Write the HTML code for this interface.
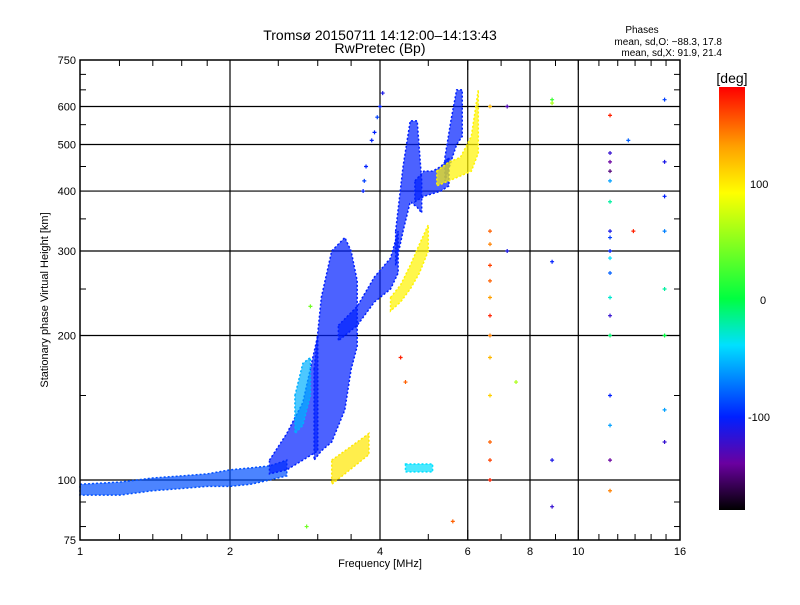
<!DOCTYPE html>
<html><head><meta charset="utf-8"><style>
body{margin:0;background:#fff;}
svg text{font-family:"Liberation Sans",sans-serif;fill:#000;}
</style></head><body>
<svg id="chart" width="800" height="600" xmlns="http://www.w3.org/2000/svg">
<rect width="800" height="600" fill="#fff"/>
<defs>
<linearGradient id="cbar" x1="0" y1="1" x2="0" y2="0">
<stop offset="0" stop-color="#000"/><stop offset="0.11" stop-color="#6a00a0"/><stop offset="0.22" stop-color="#0020ff"/><stop offset="0.39" stop-color="#00e0ff"/><stop offset="0.5" stop-color="#00ff40"/><stop offset="0.75" stop-color="#ffff00"/><stop offset="0.86" stop-color="#ffa000"/><stop offset="1" stop-color="#ff0000"/>
</linearGradient>
</defs>
<g id="grid"></g>
<g id="marks"></g>
<g id="axes"></g>
<text x="380" y="40" font-size="14" text-anchor="middle">Tromsø 20150711 14:12:00–14:13:43</text>
<text x="380" y="53" font-size="14" text-anchor="middle">RwPretec (Bp)</text>
<text x="642" y="33" font-size="10" text-anchor="middle">Phases</text>
<text x="722" y="45" font-size="10" text-anchor="end">mean, sd,O: −88.3, 17.8</text>
<text x="722" y="56" font-size="10" text-anchor="end">mean, sd,X:  91.9, 21.4</text>
<text x="380" y="567" font-size="11" text-anchor="middle">Frequency [MHz]</text>
<text x="48" y="300" font-size="11" text-anchor="middle" transform="rotate(-90 48 300)">Stationary phase Virtual Height [km]</text>
<rect x="719" y="87" width="26" height="423" fill="url(#cbar)"/>
<text x="732" y="83" font-size="14" text-anchor="middle">[deg]</text>
<text x="750" y="188" font-size="11">100</text>
<text x="760" y="304" font-size="11">0</text>
<text x="748" y="421" font-size="11">-100</text>
</svg>
<script>
const xTicks=[1,2,4,6,8,10,16];
const yTicks=[75,100,200,300,400,500,600,750];
const xGrid=[2,4,6,8,10];
const yGrid=[100,200,300,400,500,600];
const xMinor=[1.2,1.4,1.6,1.8,2.5,3,3.5,5,7,9,11,12,13,14,15];
const yMinor=[80,90,150,250,350,450,550,650,700];
// bands: freqs, lower heights, upper heights, phase
const bandFreqs=[
 [1.0,1.2,1.4,1.6,1.8,2.0,2.2,2.4,2.6],
 [2.4,2.6,2.8,3.0],
 [2.95,3.05,3.2,3.4,3.5,3.6],
 [2.7,2.8,2.9],
 [3.3,3.6,3.9,4.2,4.35],
 [4.3,4.45,4.6,4.75,4.85],
 [4.7,4.9,5.1,5.3,5.5],
 [5.4,5.55,5.7,5.85],
 [4.2,4.4,4.6,4.8,5.0],
 [5.2,5.5,5.8,6.1,6.3],
 [3.2,3.4,3.6,3.8],
 [4.5,4.7,4.9,5.1]
];
const bandLo=[
 [93,93,95,96,97,97,98,100,102],
 [103,105,110,115],
 [110,115,120,140,170,190],
 [125,130,150],
 [195,210,235,250,270],
 [280,330,380,370,360],
 [380,390,395,400,410],
 [420,460,500,520],
 [225,235,250,270,300],
 [410,420,430,440,480],
 [98,103,108,113],
 [104,104,104,104]
];
const bandHi=[
 [98,99,101,102,103,105,106,107,110],
 [110,125,145,200],
 [170,240,300,320,300,260],
 [150,175,180],
 [210,230,265,290,330],
 [330,450,560,560,420],
 [420,440,440,450,470],
 [470,560,650,650],
 [240,255,280,310,340],
 [440,460,470,520,650],
 [110,115,120,125],
 [108,108,108,108]
];
const bandPhase=[-85,-100,-100,-55,-100,-100,-100,-100,95,95,100,-40];
// sparse points
const ptFreq=[6.65,6.65,6.65,6.65,6.65,6.65,6.65,6.65,6.65,6.65,6.65,6.65,6.65,8.86,8.86,8.86,8.86,8.86,11.58,11.58,11.58,11.58,11.58,11.58,11.58,11.58,11.58,11.58,11.58,11.58,11.58,11.58,11.58,11.58,11.58,11.58,14.9,14.9,14.9,14.9,14.9,14.9,14.9,14.9,12.6,12.9,7.2,7.2,7.5,3.85,3.9,3.95,4.0,4.05,3.7,3.72,3.75,2.9,2.85,5.6,4.4,4.5];
const ptH=[600,330,310,280,260,240,220,200,180,150,120,110,100,620,610,285,110,88,575,480,460,440,420,380,330,320,300,290,270,240,220,200,150,130,110,95,620,460,390,330,250,200,140,120,510,330,600,300,160,510,530,570,600,640,400,420,450,230,80,82,180,160];
const ptPhase=[120,150,140,160,150,130,170,140,120,110,150,160,170,20,60,-100,-110,-120,170,-120,-140,-150,-60,-20,-110,-90,-100,-40,-80,-30,-120,-10,-100,-60,-140,140,-90,-110,-100,-70,-20,0,-60,-120,-80,170,-130,-110,60,-100,-100,-90,-100,-110,-100,-90,-100,40,40,150,170,150];

const NS='http://www.w3.org/2000/svg';
const X0=80,X1=680,Y0=60,Y1=540;
function xs(f){return X0+150*Math.log2(f);}
function ys(h){return Y1-480*Math.log10(h/75);}
const stops=[[-180,[0,0,0]],[-140,[106,0,160]],[-100,[0,32,255]],[-40,[0,224,255]],[0,[0,255,64]],[90,[255,255,0]],[130,[255,160,0]],[180,[255,0,0]]];
function col(p){for(let i=1;i<stops.length;i++){if(p<=stops[i][0]){const a=stops[i-1],b=stops[i];const t=(p-a[0])/(b[0]-a[0]);const c=a[1].map((v,k)=>Math.round(v+(b[1][k]-v)*t));return 'rgb('+c.join(',')+')';}}return 'rgb(255,0,0)';}
function mk(tag,at,parent){const e=document.createElementNS(NS,tag);for(const k in at)e.setAttribute(k,at[k]);parent.appendChild(e);return e;}
const grid=document.getElementById('grid'),marks=document.getElementById('marks'),axes=document.getElementById('axes');
xGrid.forEach(f=>{const l=mk('line',{x1:xs(f),x2:xs(f),y1:Y0,y2:Y1,stroke:'#000','stroke-width':1.2},grid);

});
yGrid.forEach(h=>{const l=mk('line',{x1:X0,x2:X1,y1:ys(h),y2:ys(h),stroke:'#000','stroke-width':1.2},grid);

});
bandFreqs.forEach((fs,i)=>{
 const c=col(bandPhase[i]);
 let pts=[];
 fs.forEach((f,j)=>pts.push(xs(f)+','+ys(bandHi[i][j])));
 for(let j=fs.length-1;j>=0;j--)pts.push(xs(fs[j])+','+ys(bandLo[i][j]));
 const pg=mk('polygon',{points:pts.join(' '),fill:c,'fill-opacity':0.7,stroke:c,'stroke-width':1.5,'stroke-dasharray':'2 2'},marks);
 
 
});
ptFreq.forEach((f,i)=>{
 const x=xs(f),y=ys(ptH[i]);
 const p=mk('path',{d:`M${x-2} ${y}H${x+2}M${x} ${y-2}V${y+2}`,stroke:col(ptPhase[i]),'stroke-width':1.2},marks);
 
 
});
const frame=mk('rect',{x:X0,y:Y0,width:X1-X0,height:Y1-Y0,fill:'none',stroke:'#000','stroke-width':1.5},axes);


xTicks.concat(xMinor).forEach(f=>{const x=xs(f);const big=xTicks.includes(f);const L=big?10:6;
 mk('line',{x1:x,x2:x,y1:Y1,y2:Y1-L,stroke:'#000'},axes);mk('line',{x1:x,x2:x,y1:Y0,y2:Y0+L,stroke:'#000'},axes);});
yTicks.concat(yMinor).forEach(h=>{const y=ys(h);const big=yTicks.includes(h);const L=big?10:6;
 mk('line',{x1:X0,x2:X0+L,y1:y,y2:y,stroke:'#000'},axes);mk('line',{x1:X1,x2:X1-L,y1:y,y2:y,stroke:'#000'},axes);});
xTicks.forEach(f=>{const t=mk('text',{x:xs(f),y:555,'font-size':11,'text-anchor':'middle'},axes);t.textContent=f;
 
 });
yTicks.forEach(h=>{const t=mk('text',{x:76,y:ys(h)+4,'font-size':11,'text-anchor':'end'},axes);t.textContent=h;
 
 });
</script>
</body></html>
